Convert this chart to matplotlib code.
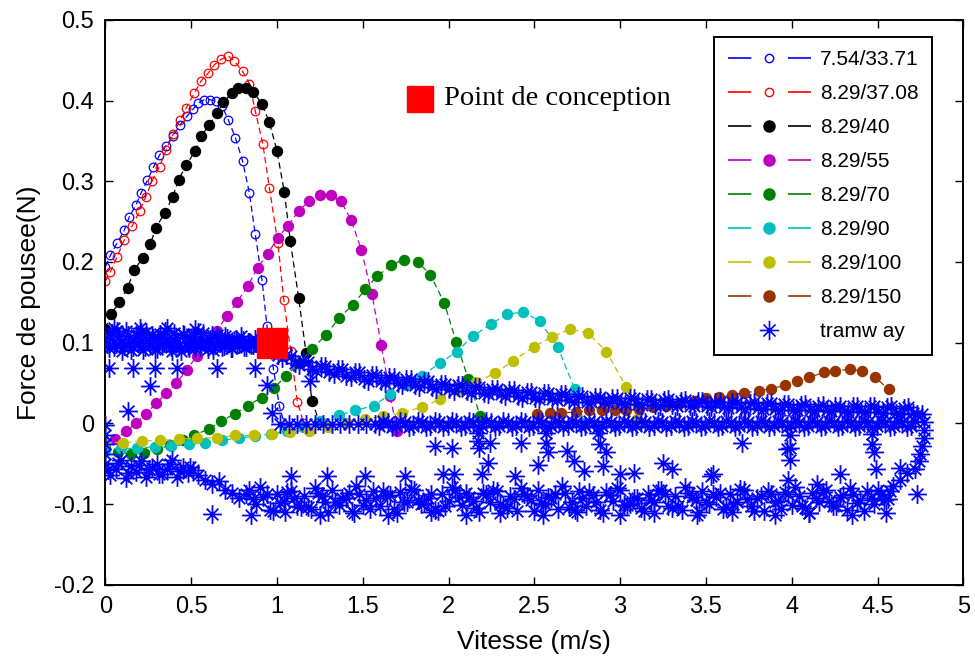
import numpy as np
import matplotlib
matplotlib.use("Agg")
import matplotlib.pyplot as plt
from matplotlib.lines import Line2D
from matplotlib.path import Path

plt.rcParams['font.family'] = ['Liberation Sans', 'DejaVu Sans']

# ---- characteristic curves (speed m/s, thrust N) ----
labels = ['7.54/33.71', '8.29/37.08', '8.29/40', '8.29/55',
          '8.29/70', '8.29/90', '8.29/100', '8.29/150']
colors = ['#0000ff', '#ff0000', '#000000', '#bf00bf',
          '#008000', '#00bfbf', '#bfbf00', '#993300']
filled = [False, False, True, True, True, True, True, True]

c1_x = [0.0, 0.03, 0.07, 0.11, 0.14, 0.18, 0.21, 0.245, 0.28, 0.315, 0.354, 0.394, 0.437, 0.478,
        0.51, 0.542, 0.577, 0.612, 0.647, 0.68, 0.717, 0.758, 0.80, 0.84, 0.874, 0.913, 0.942,
        0.98, 1.015, 1.05]
c1_y = [0.194, 0.208, 0.224, 0.239, 0.256, 0.271, 0.286, 0.301, 0.317, 0.332, 0.344, 0.356, 0.370,
        0.381, 0.389, 0.397, 0.401, 0.401, 0.399, 0.393, 0.376, 0.354, 0.325, 0.285, 0.234, 0.178,
        0.121, 0.067, 0.021, -0.005]

c2_x = [0.0, 0.03, 0.068, 0.11, 0.155, 0.2, 0.237, 0.272, 0.316, 0.355, 0.397, 0.437, 0.472, 0.519,
        0.557, 0.60, 0.635, 0.674, 0.717, 0.752, 0.80, 0.84, 0.874, 0.918, 0.956, 1.006, 1.04,
        1.08, 1.12, 1.155, 1.19]
c2_y = [0.176, 0.188, 0.206, 0.227, 0.244, 0.263, 0.281, 0.300, 0.318, 0.339, 0.359, 0.376, 0.391,
        0.409, 0.424, 0.434, 0.444, 0.451, 0.455, 0.449, 0.436, 0.421, 0.387, 0.346, 0.292, 0.223,
        0.153, 0.090, 0.026, 0.001, -0.010]

c3_x = [0.0, 0.035, 0.082, 0.13, 0.169, 0.218, 0.262, 0.295, 0.346, 0.392, 0.427, 0.472, 0.522,
        0.559, 0.606, 0.653, 0.688, 0.738, 0.775, 0.82, 0.862, 0.912, 0.956, 1.0, 1.043, 1.078,
        1.127, 1.17, 1.204, 1.247]
c3_y = [0.117, 0.136, 0.150, 0.168, 0.190, 0.205, 0.222, 0.242, 0.261, 0.280, 0.302, 0.320, 0.337,
        0.356, 0.370, 0.385, 0.398, 0.409, 0.416, 0.416, 0.411, 0.396, 0.373, 0.338, 0.287, 0.226,
        0.155, 0.087, 0.028, 0.002]

c4_x = [0.0, 0.058, 0.12, 0.179, 0.237, 0.297, 0.355, 0.414, 0.474, 0.532, 0.592, 0.65, 0.709,
        0.767, 0.83, 0.888, 0.946, 1.006, 1.064, 1.127, 1.185, 1.252, 1.315, 1.373, 1.433, 1.492,
        1.554, 1.608, 1.661, 1.70]
c4_y = [-0.030, -0.020, -0.010, 0.0, 0.012, 0.025, 0.037, 0.050, 0.066, 0.083, 0.100, 0.115, 0.133,
        0.150, 0.170, 0.193, 0.210, 0.230, 0.245, 0.263, 0.275, 0.283, 0.283, 0.275, 0.252, 0.215,
        0.160, 0.097, 0.034, -0.010]

c5_x = [0.0, 0.075, 0.15, 0.223, 0.30, 0.379, 0.45, 0.515, 0.602, 0.676, 0.758, 0.829, 0.913, 0.985,
        1.053, 1.13, 1.204, 1.288, 1.36, 1.443, 1.515, 1.583, 1.666, 1.738, 1.822, 1.894, 1.976,
        2.045, 2.115, 2.185]
c5_y = [-0.030, -0.036, -0.038, -0.037, -0.032, -0.027, -0.021, -0.015, -0.007, 0.003, 0.012, 0.022,
        0.032, 0.044, 0.059, 0.075, 0.092, 0.110, 0.130, 0.147, 0.166, 0.182, 0.196, 0.203, 0.200,
        0.184, 0.149, 0.101, 0.055, 0.009]

c6_x = [0.0, 0.093, 0.184, 0.287, 0.385, 0.485, 0.583, 0.68, 0.781, 0.87, 0.965, 1.06, 1.155, 1.253,
        1.36, 1.457, 1.564, 1.661, 1.753, 1.845, 1.952, 2.049, 2.142, 2.247, 2.34, 2.433, 2.531,
        2.637, 2.735, 2.79]
c6_y = [-0.034, -0.031, -0.031, -0.029, -0.028, -0.026, -0.024, -0.021, -0.018, -0.016, -0.013,
        -0.009, -0.004, 0.003, 0.010, 0.016, 0.022, 0.036, 0.047, 0.059, 0.075, 0.089, 0.108, 0.123,
        0.135, 0.138, 0.127, 0.094, 0.043, 0.0]

c7_x = [0.0, 0.106, 0.213, 0.32, 0.427, 0.534, 0.65, 0.758, 0.864, 0.971, 1.078, 1.185, 1.30, 1.41,
        1.515, 1.62, 1.728, 1.845, 1.952, 2.06, 2.162, 2.269, 2.375, 2.496, 2.603, 2.71, 2.813,
        2.92, 3.036, 3.10]
c7_y = [-0.023, -0.024, -0.022, -0.021, -0.020, -0.018, -0.018, -0.015, -0.015, -0.013, -0.011,
        -0.009, -0.004, 0.0, 0.005, 0.009, 0.013, 0.020, 0.030, 0.040, 0.051, 0.062, 0.077, 0.095,
        0.107, 0.117, 0.112, 0.089, 0.045, 0.005]

c8_x = [2.515, 2.589, 2.657, 2.745, 2.82, 2.893, 2.968, 3.036, 3.11, 3.19, 3.27, 3.35, 3.43, 3.50,
        3.575, 3.652, 3.724, 3.807, 3.879, 3.963, 4.03, 4.102, 4.186, 4.254, 4.337, 4.409, 4.487,
        4.565]
c8_y = [0.012, 0.013, 0.013, 0.014, 0.016, 0.017, 0.016, 0.016, 0.018, 0.020, 0.022, 0.025, 0.028,
        0.031, 0.033, 0.035, 0.038, 0.040, 0.043, 0.047, 0.052, 0.057, 0.063, 0.065, 0.067, 0.065,
        0.057, 0.042]

curves_x = [c1_x, c2_x, c3_x, c4_x, c5_x, c6_x, c7_x, c8_x]
curves_y = [c1_y, c2_y, c3_y, c4_y, c5_y, c6_y, c7_y, c8_y]

# ---- tramway measured points ----
# traction phase, F ~ 0.1 N
tram_acc_x = [0.00, 0.02, 0.04, 0.06, 0.08, 0.10, 0.12, 0.14, 0.16, 0.18, 0.20, 0.22, 0.24, 0.26,
              0.28, 0.30, 0.32, 0.34, 0.36, 0.38, 0.40, 0.42, 0.44, 0.46, 0.48, 0.50, 0.52, 0.54,
              0.56, 0.58, 0.60, 0.62, 0.64, 0.66, 0.68, 0.70, 0.72, 0.74, 0.76, 0.78, 0.80, 0.82,
              0.84, 0.86, 0.88, 0.90, 0.92, 0.94, 0.96]
tram_acc_y = [0.104, 0.093, 0.112, 0.098, 0.108, 0.090, 0.114, 0.100, 0.095, 0.110, 0.102, 0.091,
              0.113, 0.097, 0.106, 0.092, 0.111, 0.099, 0.104, 0.094, 0.112, 0.101, 0.090, 0.109,
              0.096, 0.105, 0.093, 0.113, 0.098, 0.102, 0.092, 0.110, 0.097, 0.106, 0.094, 0.108,
              0.100, 0.093, 0.105, 0.098, 0.103, 0.095, 0.101, 0.097, 0.100, 0.096, 0.099, 0.097,
              0.098]
tram_acc2_x = [0.01, 0.03, 0.05, 0.07, 0.09, 0.11, 0.13, 0.15, 0.17, 0.19, 0.21, 0.23, 0.25, 0.27,
               0.29, 0.31, 0.33, 0.35, 0.37, 0.39, 0.41, 0.43, 0.45, 0.47, 0.49, 0.51, 0.53, 0.55,
               0.57, 0.59, 0.61, 0.63, 0.65, 0.67, 0.69, 0.71, 0.73, 0.75, 0.77, 0.79, 0.81, 0.83,
               0.85, 0.87, 0.89, 0.91, 0.93, 0.95]
tram_acc2_y = [0.098, 0.108, 0.094, 0.115, 0.101, 0.096, 0.110, 0.091, 0.105, 0.099, 0.113, 0.094,
               0.103, 0.109, 0.092, 0.106, 0.097, 0.114, 0.100, 0.090, 0.107, 0.096, 0.111, 0.099,
               0.093, 0.108, 0.102, 0.095, 0.112, 0.098, 0.104, 0.091, 0.109, 0.100, 0.096, 0.106,
               0.093, 0.103, 0.099, 0.108, 0.094, 0.101, 0.097, 0.104, 0.095, 0.100, 0.098, 0.096]

# traction at decreasing force above ~1 m/s
tram_top_x = [0.98, 1.03, 1.08, 1.13, 1.18, 1.23, 1.28, 1.33, 1.38, 1.43, 1.48, 1.53, 1.58, 1.63,
              1.68, 1.73, 1.78, 1.83, 1.88, 1.93, 1.98, 2.03, 2.08, 2.13, 2.18, 2.23, 2.28, 2.33,
              2.38, 2.43, 2.48, 2.53, 2.58, 2.63, 2.68, 2.73, 2.78, 2.83, 2.88, 2.93, 2.98, 3.03,
              3.08, 3.13, 3.18, 3.23, 3.28, 3.33, 3.38, 3.43, 3.48, 3.53, 3.58, 3.63, 3.68, 3.73,
              3.78, 3.83, 3.88, 3.93, 3.98, 4.03, 4.08, 4.13, 4.18, 4.23, 4.28, 4.33, 4.38, 4.43,
              4.48, 4.53, 4.58, 4.63, 4.68, 4.73]
tram_top_y = [0.094, 0.081, 0.084, 0.072, 0.076, 0.065, 0.071, 0.061, 0.067, 0.057, 0.063, 0.053,
              0.060, 0.050, 0.057, 0.048, 0.055, 0.045, 0.052, 0.043, 0.049, 0.040, 0.047, 0.038,
              0.045, 0.036, 0.043, 0.034, 0.041, 0.032, 0.039, 0.030, 0.037, 0.029, 0.036, 0.027,
              0.034, 0.026, 0.033, 0.025, 0.032, 0.024, 0.031, 0.023, 0.030, 0.022, 0.030, 0.021,
              0.029, 0.021, 0.028, 0.020, 0.027, 0.019, 0.027, 0.018, 0.026, 0.018, 0.025, 0.017,
              0.024, 0.016, 0.024, 0.015, 0.023, 0.015, 0.022, 0.014, 0.022, 0.014, 0.021, 0.013,
              0.021, 0.012, 0.020, 0.012]
tram_top2_x = [1.005, 1.055, 1.105, 1.155, 1.205, 1.255, 1.305, 1.355, 1.405, 1.455, 1.505, 1.555,
               1.605, 1.655, 1.705, 1.755, 1.805, 1.855, 1.905, 1.955, 2.005, 2.055, 2.105, 2.155,
               2.205, 2.255, 2.305, 2.355, 2.405, 2.455, 2.505, 2.555, 2.605, 2.655, 2.705, 2.755,
               2.805, 2.855, 2.905, 2.955, 3.005, 3.055, 3.105, 3.155, 3.205, 3.255, 3.305, 3.355,
               3.405, 3.455, 3.505, 3.555, 3.605, 3.655, 3.705, 3.755, 3.805, 3.855, 3.905, 3.955,
               4.005, 4.055, 4.105, 4.155, 4.205, 4.255, 4.305, 4.355, 4.405, 4.455, 4.505, 4.555,
               4.605, 4.655, 4.705]
tram_top2_y = [0.085, 0.085, 0.075, 0.077, 0.067, 0.071, 0.063, 0.067, 0.059, 0.063, 0.055, 0.060,
               0.052, 0.057, 0.050, 0.055, 0.047, 0.052, 0.045, 0.049, 0.042, 0.047, 0.040, 0.045,
               0.038, 0.043, 0.036, 0.041, 0.034, 0.039, 0.032, 0.037, 0.030, 0.036, 0.029, 0.034,
               0.027, 0.033, 0.026, 0.032, 0.025, 0.031, 0.024, 0.030, 0.023, 0.029, 0.023, 0.028,
               0.022, 0.028, 0.021, 0.027, 0.020, 0.026, 0.020, 0.025, 0.019, 0.025, 0.018, 0.024,
               0.017, 0.023, 0.017, 0.022, 0.016, 0.022, 0.015, 0.021, 0.015, 0.021, 0.014, 0.020,
               0.013, 0.019, 0.013]

# coasting, F ~ 0
tram_mid_x = [1.02, 1.07, 1.12, 1.17, 1.22, 1.27, 1.32, 1.37, 1.42, 1.47, 1.52, 1.57, 1.62, 1.67,
              1.72, 1.77, 1.82, 1.87, 1.92, 1.97, 2.02, 2.07, 2.12, 2.17, 2.22, 2.27, 2.32, 2.37,
              2.42, 2.47, 2.52, 2.57, 2.62, 2.67, 2.72, 2.77, 2.82, 2.87, 2.92, 2.97, 3.02, 3.07,
              3.12, 3.17, 3.22, 3.27, 3.32, 3.37, 3.42, 3.47, 3.52, 3.57, 3.62, 3.67, 3.72, 3.77,
              3.82, 3.87, 3.92, 3.97, 4.02, 4.07, 4.12, 4.17, 4.22, 4.27, 4.32, 4.37, 4.42, 4.47,
              4.52, 4.57, 4.62, 4.67, 4.72]
tram_mid_y = [-0.001, -0.001, -0.001, -0.001, -0.001, -0.001, -0.001, -0.001, -0.001, -0.001,
              -0.001, -0.001, 0.003, -0.004, 0.003, -0.004, 0.003, -0.004, 0.003, -0.004, 0.003,
              -0.004, 0.003, -0.004, 0.003, -0.004, 0.003, -0.004, 0.003, -0.004, 0.003, -0.004,
              0.003, -0.004, 0.003, -0.004, 0.003, -0.004, 0.003, -0.004, 0.003, -0.004, 0.003,
              -0.004, 0.003, -0.004, 0.003, -0.004, 0.003, -0.004, 0.003, -0.004, 0.003, -0.004,
              0.003, -0.004, 0.003, -0.004, 0.003, -0.004, 0.003, -0.004, 0.003, -0.004, 0.003,
              -0.004, 0.003, -0.004, 0.003, -0.004, 0.003, -0.004, 0.003, -0.004, 0.003]
tram_mid2_x = [1.595, 1.645, 1.695, 1.745, 1.795, 1.845, 1.895, 1.945, 1.995, 2.045, 2.095, 2.145,
               2.195, 2.245, 2.295, 2.345, 2.395, 2.445, 2.495, 2.545, 2.595, 2.645, 2.695, 2.745,
               2.795, 2.845, 2.895, 2.945, 2.995, 3.045, 3.095, 3.145, 3.195, 3.245, 3.295, 3.345,
               3.395, 3.445, 3.495, 3.545, 3.595, 3.645, 3.695, 3.745, 3.795, 3.845, 3.895, 3.945,
               3.995, 4.045, 4.095, 4.145, 4.195, 4.245, 4.295, 4.345, 4.395, 4.445, 4.495, 4.545,
               4.595, 4.645, 4.695]
tram_mid2_y = [-0.003, 0.002, -0.003, 0.002, -0.003, 0.002, -0.003, 0.002, -0.003, 0.002, -0.003,
               0.002, -0.003, 0.002, -0.003, 0.002, -0.003, 0.002, -0.003, 0.002, -0.003, 0.002,
               -0.003, 0.002, -0.003, 0.002, -0.003, 0.002, -0.003, 0.002, -0.003, 0.002, -0.003,
               0.002, -0.003, 0.002, -0.003, 0.002, -0.003, 0.002, -0.003, 0.002, -0.003, 0.002,
               -0.003, 0.002, -0.003, 0.002, -0.003, 0.002, -0.003, 0.002, -0.003, 0.002, -0.003,
               0.002, -0.003, 0.002, -0.003, 0.002, -0.003, 0.002, -0.003]

# braking, F ~ -0.05 .. -0.1
tram_brk_x = [0.00, 0.03, 0.06, 0.09, 0.12, 0.15, 0.18, 0.21, 0.24, 0.27, 0.30, 0.33, 0.36, 0.39,
              0.42, 0.45, 0.48, 0.51, 0.54, 0.58, 0.62, 0.66, 0.70, 0.74, 0.78, 0.82,
              0.84, 0.88, 0.92, 0.96, 1.00, 1.04, 1.08, 1.12, 1.16, 1.20,
              1.24, 1.28, 1.32, 1.36, 1.40, 1.44, 1.48, 1.52, 1.56, 1.60,
              1.64, 1.68, 1.72, 1.76, 1.80, 1.84, 1.88, 1.92, 1.96, 2.00,
              2.04, 2.08, 2.12, 2.16, 2.20, 2.24, 2.28, 2.32, 2.36, 2.40,
              2.44, 2.48, 2.52, 2.56, 2.60, 2.64, 2.68, 2.72, 2.76, 2.80,
              2.84, 2.88, 2.92, 2.96, 3.00, 3.04, 3.08, 3.12, 3.16, 3.20,
              3.24, 3.28, 3.32, 3.36, 3.40, 3.44, 3.48, 3.52, 3.56, 3.60,
              3.64, 3.68, 3.72, 3.76, 3.80, 3.84, 3.88, 3.92, 3.96, 4.00,
              4.04, 4.08, 4.12, 4.16, 4.20, 4.24, 4.28, 4.32, 4.36, 4.40,
              4.44, 4.48, 4.52, 4.56]
tram_brk_y = [-0.050, -0.064, -0.056, -0.045, -0.068, -0.053, -0.060, -0.047, -0.066, -0.055,
              -0.050, -0.063, -0.057, -0.046, -0.067, -0.054, -0.061, -0.058,
              -0.064, -0.070, -0.075, -0.072, -0.082, -0.086, -0.092, -0.088,
              -0.083, -0.100, -0.091, -0.107, -0.087, -0.096, -0.084, -0.102, -0.090, -0.106,
              -0.086, -0.097, -0.082, -0.101, -0.092, -0.108, -0.088, -0.095, -0.084, -0.103,
              -0.090, -0.106, -0.085, -0.097, -0.083, -0.100, -0.093, -0.107, -0.087, -0.096,
              -0.082, -0.101, -0.091, -0.105, -0.086, -0.098, -0.084, -0.102, -0.090, -0.108,
              -0.087, -0.095, -0.083, -0.100, -0.092, -0.106, -0.086, -0.097, -0.084, -0.103,
              -0.089, -0.107, -0.085, -0.096, -0.082, -0.101, -0.093, -0.105, -0.088, -0.098,
              -0.083, -0.102, -0.090, -0.107, -0.086, -0.095, -0.084, -0.100, -0.091, -0.106,
              -0.087, -0.097, -0.082, -0.103, -0.092, -0.108, -0.088, -0.096, -0.085, -0.101,
              -0.090, -0.105, -0.086, -0.098, -0.083, -0.102, -0.091, -0.107, -0.087, -0.095,
              -0.084, -0.100, -0.088, -0.094]
tram_brk2_x = [0.015, 0.075, 0.135, 0.195, 0.255, 0.315, 0.375, 0.435, 0.495,
               0.86, 0.94, 1.02, 1.10, 1.18, 1.26, 1.34, 1.42, 1.50, 1.58, 1.66, 1.74, 1.82, 1.90,
               1.98, 2.06, 2.14, 2.22, 2.30, 2.38, 2.46, 2.54, 2.62, 2.70, 2.78, 2.86, 2.94, 3.02,
               3.10, 3.18, 3.26, 3.34, 3.42, 3.50, 3.58, 3.66, 3.74, 3.82, 3.90, 3.98, 4.06, 4.14,
               4.22, 4.30, 4.38, 4.46, 4.54]
tram_brk2_y = [-0.058, -0.049, -0.061, -0.052, -0.057, -0.063, -0.050, -0.059, -0.054,
               -0.094, -0.088, -0.099, -0.092, -0.104, -0.090, -0.097, -0.086, -0.101, -0.093,
               -0.089, -0.098, -0.095, -0.087, -0.103, -0.091, -0.096, -0.088, -0.100, -0.094,
               -0.090, -0.099, -0.087, -0.104, -0.093, -0.097, -0.089, -0.101, -0.092, -0.095,
               -0.088, -0.103, -0.091, -0.098, -0.086, -0.100, -0.094, -0.090, -0.097, -0.088,
               -0.102, -0.093, -0.096, -0.089, -0.099, -0.092, -0.095]
tram_brk3_x = [0.90, 0.98, 1.06, 1.14, 1.22, 1.30, 1.38, 1.46, 1.54, 1.62, 1.70, 1.78, 1.86, 1.94,
               2.02, 2.10, 2.18, 2.26, 2.34, 2.42, 2.50, 2.58, 2.66, 2.74, 2.82, 2.90, 2.98, 3.06,
               3.14, 3.22, 3.30, 3.38, 3.46, 3.54, 3.62, 3.70, 3.78, 3.86, 3.94, 4.02, 4.10, 4.18,
               4.26, 4.34, 4.42, 4.50]
tram_brk3_y = [-0.079, -0.109, -0.085, -0.104, -0.080, -0.110, -0.092, -0.078, -0.106, -0.084,
               -0.111, -0.081, -0.099, -0.108, -0.079, -0.086, -0.110, -0.083, -0.105, -0.080,
               -0.109, -0.091, -0.078, -0.107, -0.085, -0.111, -0.080, -0.100, -0.108, -0.082,
               -0.105, -0.079, -0.110, -0.087, -0.104, -0.081, -0.109, -0.084, -0.106, -0.079,
               -0.111, -0.085, -0.103, -0.080, -0.108, -0.083]

# isolated points, start/end transitions and spikes
tram_pts_x = [0.02, 0.16, 0.29, 0.42, 0.65, 0.87, 0.26, 0.134, 0.94, 1.195, 0.971,
              0.0, 0.0, 0.0, 0.0, 0.05, 0.20, 0.36, 0.52,
              2.17, 2.17, 2.18, 2.57, 2.57, 2.58, 2.87, 2.88, 3.99, 3.99, 3.99, 4.47, 4.47, 4.48,
              1.923, 2.02, 2.24, 2.42, 2.69, 2.92, 3.71, 2.23, 2.52, 3.25, 3.54, 3.98, 4.15, 4.28,
              4.49,
              1.08, 1.29, 1.515, 1.748, 1.97, 2.03, 2.195, 2.39, 2.73, 2.79, 2.90, 3.0, 3.08, 3.30,
              3.53, 3.97, 4.63,
              0.62, 0.85, 1.05, 1.25, 1.45, 1.65, 1.9, 2.1, 2.3, 2.55, 2.75, 3.0, 3.2, 3.45, 3.65,
              3.9, 4.1, 4.35, 4.55,
              4.76, 4.77, 4.77, 4.77, 4.76, 4.75, 4.74, 4.72, 4.67, 4.63, 4.59, 4.57, 4.73]
tram_pts_y = [0.068, 0.068, 0.068, 0.068, 0.068, 0.068, 0.046, 0.015, 0.048, 0.053, 0.013,
              -0.002, -0.014, -0.026, -0.038, 0.118, 0.118, 0.118, 0.117,
              -0.012, -0.022, -0.030, -0.012, -0.024, -0.036, -0.012, -0.025, -0.015, -0.030,
              -0.045, -0.013, -0.026, -0.036,
              -0.028, -0.030, -0.024, -0.024, -0.034, -0.035, -0.024, -0.049, -0.051, -0.049,
              -0.063, -0.070, -0.075, -0.063, -0.057,
              -0.065, -0.065, -0.065, -0.065, -0.063, -0.063, -0.063, -0.065, -0.047, -0.059,
              -0.053, -0.063, -0.061, -0.057, -0.065, -0.032, -0.055,
              -0.112, -0.113, -0.110, -0.114, -0.111, -0.113, -0.110, -0.113, -0.111, -0.114,
              -0.110, -0.113, -0.111, -0.113, -0.110, -0.113, -0.111, -0.114, -0.111,
              0.012, 0.002, -0.008, -0.018, -0.028, -0.038, -0.047, -0.057, -0.062, -0.070,
              -0.078, -0.084, -0.088]

design_x, design_y = 0.97, 0.10

xticks = [0, 0.5, 1, 1.5, 2, 2.5, 3, 3.5, 4, 4.5, 5]
xtick_labels = ['0', '0.5', '1', '1.5', '2', '2.5', '3', '3.5', '4', '4.5', '5']
yticks = [-0.2, -0.1, 0, 0.1, 0.2, 0.3, 0.4, 0.5]
ytick_labels = ['-0.2', '-0.1', '0', '0.1', '0.2', '0.3', '0.4', '0.5']

fig = plt.figure(figsize=(9.75, 6.6), dpi=100)
ax = fig.add_axes([0.108, 0.114, 0.880, 0.856])

dash = (0, (5, 3))
for xs, ys, col, fl in zip(curves_x, curves_y, colors, filled):
    if fl:
        ax.plot(xs, ys, linestyle=dash, lw=0.9, color=col, marker='o', ms=7.2,
                mfc=col, mec=col, zorder=2)
    else:
        ax.plot(xs, ys, linestyle=dash, lw=0.9, color=col, marker='o', ms=6.2,
                mfc='none', mec=col, mew=0.9, zorder=2)

# matlab-like asterisk: a "+" plus a slightly smaller "x"
d = 0.62
star = Path([(-1, 0), (1, 0), (0, -1), (0, 1), (-d, -d), (d, d), (-d, d), (d, -d)],
            [Path.MOVETO, Path.LINETO] * 4)

tram_x = (tram_acc_x + tram_acc2_x + tram_top_x + tram_top2_x + tram_mid_x + tram_mid2_x
          + tram_brk_x + tram_brk2_x + tram_brk3_x + tram_pts_x)
tram_y = (tram_acc_y + tram_acc2_y + tram_top_y + tram_top2_y + tram_mid_y + tram_mid2_y
          + tram_brk_y + tram_brk2_y + tram_brk3_y + tram_pts_y)
ax.plot(tram_x, tram_y, linestyle='none', marker=star, ms=13.5, mfc='none', mec='#0000ff',
        mew=1.3, zorder=3)

ax.plot([design_x], [design_y], linestyle='none', marker='s', ms=21, color='#ff0000', zorder=4)
ax.plot([1.836], [0.402], linestyle='none', marker='s', ms=18.5, color='#ff0000', zorder=4)
ax.text(1.975, 0.402, 'Point de conception', fontsize=20.5,
        family=['Liberation Serif', 'DejaVu Serif'], va='center', ha='left')

ax.set_xlim(0, 5)
ax.set_ylim(-0.2, 0.5)
ax.set_xticks(xticks)
ax.set_xticklabels(xtick_labels)
ax.set_yticks(yticks)
ax.set_yticklabels(ytick_labels)
ax.tick_params(direction='in', top=True, right=True, length=6, width=1, labelsize=17, pad=8)
for s in ax.spines.values():
    s.set_linewidth(1.4)
ax.set_xlabel('Vitesse (m/s)', fontsize=19, labelpad=9)
ax.set_ylabel('Force de pousee(N)', fontsize=19, labelpad=9)

# legend proxies: dash - marker - dash like the original
handles = []
for col, fl in zip(colors, filled):
    if fl:
        h = Line2D([], [], color=col, lw=1.2, linestyle=(0, (14, 22)), marker='o', ms=8,
                   mfc=col, mec=col)
    else:
        h = Line2D([], [], color=col, lw=1.2, linestyle=(0, (14, 22)), marker='o', ms=6,
                   mfc='none', mec=col)
    handles.append(h)
handles.append(Line2D([], [], linestyle='none', marker=star, ms=14, mfc='none',
                      mec='#0000ff', mew=1.2))
leg = ax.legend(handles, labels + ['tramw ay'], loc='upper right', bbox_to_anchor=(0.964, 0.970),
                borderaxespad=0, fontsize=15, handlelength=4, handletextpad=0.45,
                labelspacing=0.72, borderpad=0.65, numpoints=1, fancybox=False,
                edgecolor='black', framealpha=1)
leg.get_frame().set_linewidth(1.4)

fig.savefig('out.png', dpi=100)
